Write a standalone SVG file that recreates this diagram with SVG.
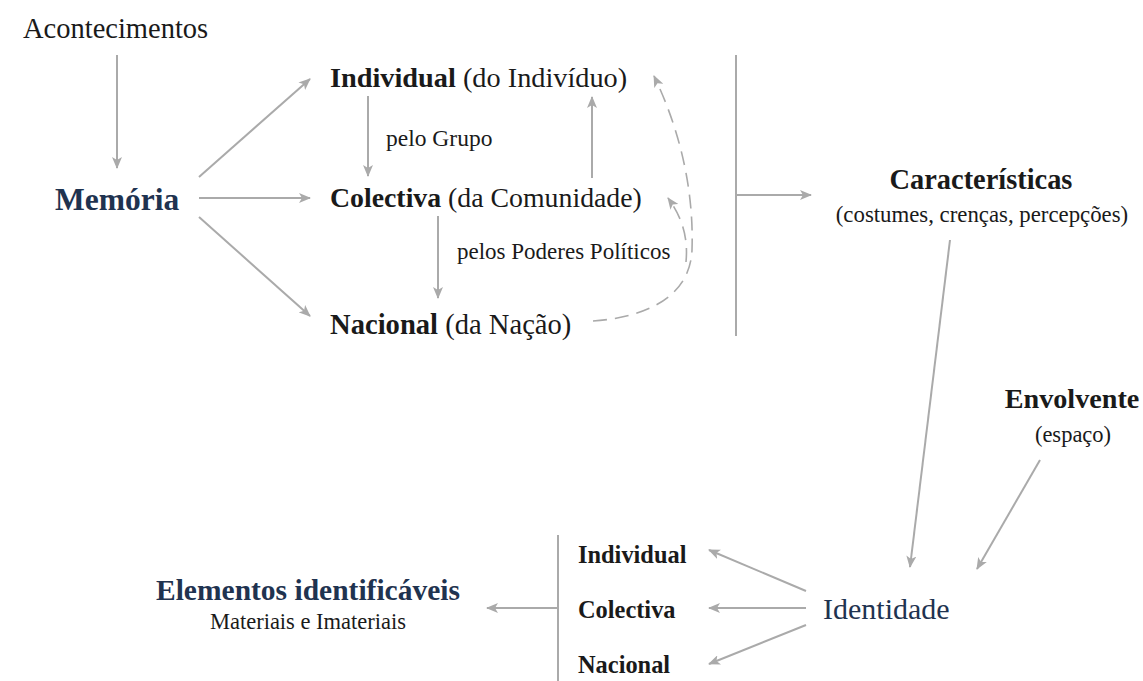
<svg xmlns="http://www.w3.org/2000/svg" width="1143" height="681" viewBox="0 0 1143 681">
<defs>
<marker id="ah" viewBox="0 0 12 10" refX="11" refY="5" markerWidth="12" markerHeight="10" markerUnits="userSpaceOnUse" orient="auto">
<path d="M0,0 L12,5 L0,10 L3,5 Z" fill="#aaaaaa"/>
</marker>
<style>
text{font-family:"Liberation Serif","DejaVu Serif",serif;fill:#1a1a1a}
.b{font-weight:bold}
.blue{fill:#1f3350}
.ln{stroke:#aaaaaa;stroke-width:2;fill:none}
.ar{stroke:#aaaaaa;stroke-width:2;fill:none;marker-end:url(#ah)}
.ds{stroke:#aaaaaa;stroke-width:1.6;fill:none;stroke-dasharray:14 8}
</style>
</defs>
<rect width="1143" height="681" fill="#ffffff"/>
<g id="connectors">
<line class="ar" x1="117" y1="55" x2="117" y2="168"/>
<line class="ar" x1="199" y1="177" x2="310" y2="79"/>
<line class="ar" x1="199" y1="198" x2="310" y2="198"/>
<line class="ar" x1="199" y1="217" x2="310" y2="316"/>
<line class="ar" x1="368" y1="96" x2="368" y2="176"/>
<line class="ar" x1="592" y1="178" x2="592" y2="97"/>
<line class="ar" x1="438" y1="216" x2="438" y2="298"/>
<path class="ds" d="M593,321 C640,318 690,300 692,250 C694,190 680,130 654,76" marker-end="url(#ah)"/>
<path class="ds" d="M686,262 C688,240 684,220 668,198" marker-end="url(#ah)"/>
<line class="ln" x1="736" y1="55" x2="736" y2="336"/>
<line class="ar" x1="736" y1="195" x2="811" y2="195"/>
<line class="ar" x1="950" y1="240" x2="910" y2="567"/>
<line class="ar" x1="1040" y1="460" x2="977" y2="569"/>
<line class="ar" x1="806" y1="591" x2="709" y2="550"/>
<line class="ar" x1="806" y1="608" x2="709" y2="608"/>
<line class="ar" x1="806" y1="625" x2="709" y2="664"/>
<line class="ln" x1="558" y1="535" x2="558" y2="681"/>
<line class="ar" x1="558" y1="608" x2="487" y2="608"/>
</g>
<g id="acontecimentos"><text x="23" y="38" font-size="28.5">Acontecimentos</text></g>
<g id="memoria"><text x="55" y="210" font-size="31.5" class="b blue">Memória</text></g>
<g id="individual"><text x="330" y="87" font-size="28.3"><tspan class="b">Individual</tspan> (do Indivíduo)</text></g>
<g id="pelo-grupo"><text x="386" y="146" font-size="23.5">pelo Grupo</text></g>
<g id="colectiva"><text x="330" y="207" font-size="27.8"><tspan class="b">Colectiva</tspan> (da Comunidade)</text></g>
<g id="pelos-poderes"><text x="457" y="259" font-size="23">pelos Poderes Políticos</text></g>
<g id="nacional"><text x="330" y="334" font-size="28.6"><tspan class="b">Nacional</tspan> (da Nação)</text></g>
<g id="caracteristicas">
<text x="981" y="189" font-size="28.4" class="b" text-anchor="middle">Características</text>
<text x="982" y="222" font-size="22.8" text-anchor="middle">(costumes, crenças, percepções)</text>
</g>
<g id="envolvente">
<text x="1072" y="408" font-size="28.2" class="b" text-anchor="middle">Envolvente</text>
<text x="1073" y="442" font-size="22.5" text-anchor="middle">(espaço)</text>
</g>
<g id="identidade"><text x="823" y="619" font-size="30" class="blue">Identidade</text></g>
<g id="ident-tipos">
<text x="578" y="563" font-size="24.4" class="b">Individual</text>
<text x="578" y="618" font-size="24.4" class="b">Colectiva</text>
<text x="578" y="673" font-size="24.4" class="b">Nacional</text>
</g>
<g id="elementos">
<text x="308" y="600" font-size="29.5" class="b blue" text-anchor="middle">Elementos identificáveis</text>
<text x="308" y="629" font-size="22.5" text-anchor="middle">Materiais e Imateriais</text>
</g>
</svg>
